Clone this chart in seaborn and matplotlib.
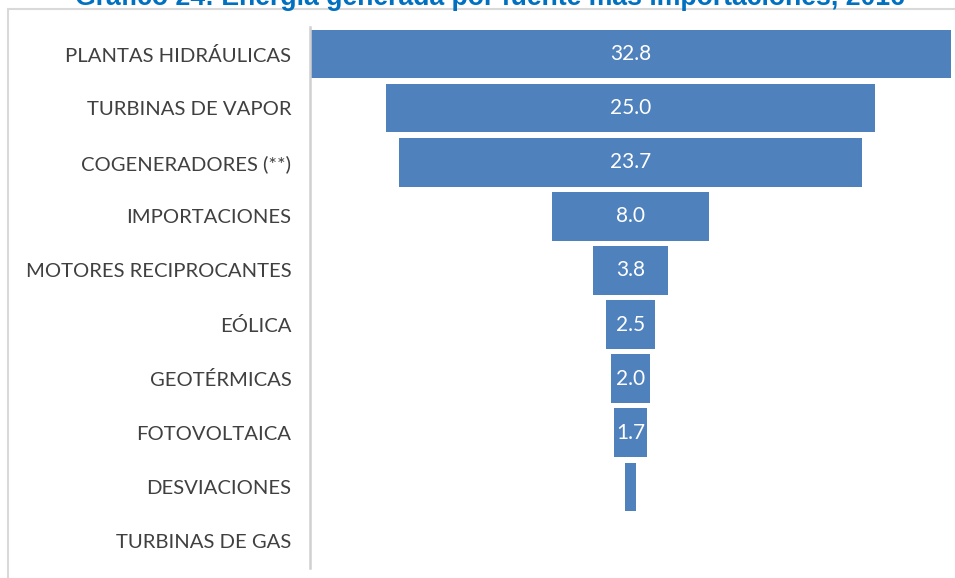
import matplotlib.pyplot as plt
import matplotlib.patches as mpatches
import numpy as np
import pandas as pd
import seaborn as sns

sns.set_theme(style="white")
plt.rcParams["font.family"] = ["Lato", "DejaVu Sans"]

sources = [
    "PLANTAS HIDRÁULICAS",
    "TURBINAS DE VAPOR",
    "COGENERADORES (**)",
    "IMPORTACIONES",
    "MOTORES RECIPROCANTES",
    "EÓLICA",
    "GEOTÉRMICAS",
    "FOTOVOLTAICA",
    "DESVIACIONES",
    "TURBINAS DE GAS",
]
shares = [32.8, 25.0, 23.7, 8.0, 3.8, 2.5, 2.0, 1.7, 0.55, 0.0]
title = "Gráfico 24: Energía generada por fuente más importaciones, 2016"

bar_color = "#4f81bd"

df = pd.DataFrame({"fuente": sources, "valor": shares})
df["mitad"] = df["valor"] / 2

fig = plt.figure(figsize=(9.55, 5.78), dpi=100)
ax = fig.add_axes([310 / 955, 1 - 568 / 578, 641 / 955, 541 / 578])

# funnel: each bar drawn as two halves around zero
sns.barplot(data=df, x="mitad", y="fuente", orient="h", color=bar_color,
            saturation=1, width=0.9, linewidth=0, ax=ax)
df["neg"] = -df["mitad"]
sns.barplot(data=df, x="neg", y="fuente", orient="h", color=bar_color,
            saturation=1, width=0.9, linewidth=0, ax=ax)

half = max(shares) / 2
ax.set_xlim(-half, half)
ax.set_ylim(len(sources) - 0.5, -0.5)
ax.set_xlabel("")
ax.set_ylabel("")
ax.set_xticks([])
ax.tick_params(axis="y", length=0, pad=13.5, labelsize=14.6, labelcolor="#404040")

for sp in ["top", "right", "bottom"]:
    ax.spines[sp].set_visible(False)
ax.spines["left"].set_color("#d0d0d0")
ax.spines["left"].set_linewidth(1.8)

for i, v in enumerate(shares):
    if v >= 1:
        ax.text(0, i, f"{v:.1f}", ha="center", va="center", color="white",
                fontsize=15)

# outer frame of the chart area
frame = mpatches.Rectangle((8 / 955, -0.02), 1.0, 1 - 9 / 578 + 0.02,
                           transform=fig.transFigure, fill=False,
                           edgecolor="#d9d9d9", linewidth=1.5)
fig.patches.append(frame)

fig.text(0.513, 1 - 5 / 578, title, ha="center", va="baseline",
         fontsize=19.2, fontweight="bold", color="#0070c0",
         family=["Liberation Sans", "DejaVu Sans"])

fig.savefig("out.png", dpi=100)
